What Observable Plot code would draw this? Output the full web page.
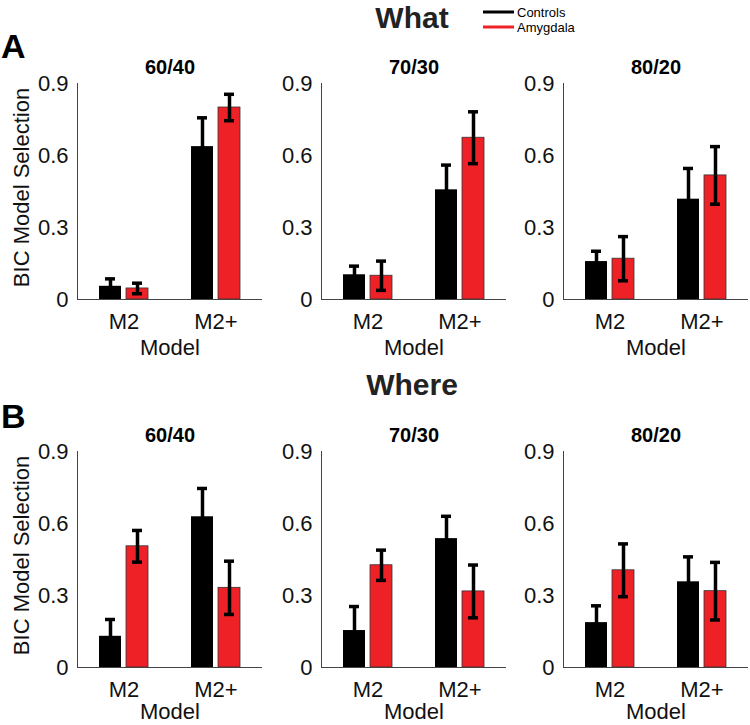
<!DOCTYPE html>
<html>
<head>
<meta charset="utf-8">
<script src="https://cdn.jsdelivr.net/npm/d3@7"></script>
<script src="https://cdn.jsdelivr.net/npm/@observablehq/plot@0.6"></script>
<style>
  html, body { margin: 0; padding: 0; background: #fff; }
  #fig { position: relative; width: 750px; height: 725px; overflow: hidden; font-family: "Liberation Sans", Arial, Helvetica, sans-serif; }
  #fig > svg.overlay { position: absolute; left: 0; top: 0; }
  .panel { position: absolute; }
</style>
</head>
<body>
<div id="fig">
  <svg class="overlay" width="750" height="725" font-family="Liberation Sans, Arial, Helvetica, sans-serif">
    <text x="412" y="28" text-anchor="middle" font-size="30" font-weight="bold" fill="#222">What</text>
    <text x="412" y="395" text-anchor="middle" font-size="30" font-weight="bold" fill="#222">Where</text>
    <text x="1" y="58" font-size="34" font-weight="bold" fill="#000">A</text>
    <text x="1" y="428" font-size="34" font-weight="bold" fill="#000">B</text>
    <line x1="483" x2="514" y1="12" y2="12" stroke="#000" stroke-width="3"/>
    <line x1="483" x2="514" y1="27" y2="27" stroke="#ee2127" stroke-width="3"/>
    <text x="517" y="16.5" font-size="13" fill="#000">Controls</text>
    <text x="517" y="31.5" font-size="13" fill="#000">Amygdala</text>
  </svg>
</div>
<script>
// ---- data ----
const panels = ["60/40", "70/30", "80/20"];
const models = ["M2", "M2+"];
const groups = ["Controls", "Amygdala"];
const yTicks = [0, 0.3, 0.6, 0.9];
const yTickLabels = ["0", "0.3", "0.6", "0.9"];

// "What" row: values per panel, [M2, M2+]
const whatControls    = [[0.055, 0.637], [0.103, 0.457], [0.158, 0.418]];
const whatControlsErr = [[0.031, 0.120], [0.036, 0.103], [0.043, 0.128]];
const whatAmygdala    = [[0.046, 0.800], [0.099, 0.674], [0.170, 0.517]];
const whatAmygdalaErr = [[0.022, 0.055], [0.061, 0.108], [0.092, 0.120]];

// "Where" row
const whereControls    = [[0.130, 0.628], [0.154, 0.537], [0.187, 0.357]];
const whereControlsErr = [[0.070, 0.118], [0.100, 0.093], [0.070, 0.104]];
const whereAmygdala    = [[0.505, 0.332], [0.426, 0.317], [0.405, 0.318]];
const whereAmygdalaErr = [[0.066, 0.111], [0.063, 0.110], [0.110, 0.120]];

// ---- drawing ----
const RED = "#ee2127";
const FONT = "Liberation Sans, Arial, Helvetica, sans-serif";
const fig = document.getElementById("fig");

const rows = [
  {top: 55, modelDy: 48, ctrl: whatControls, ctrlErr: whatControlsErr, amy: whatAmygdala, amyErr: whatAmygdalaErr},
  {top: 423, modelDy: 44, ctrl: whereControls, ctrlErr: whereControlsErr, amy: whereAmygdala, amyErr: whereAmygdalaErr}
];
const panelLefts = [0, 244, 486];

rows.forEach(row => {
  panels.forEach((title, p) => {
    const ctrl = models.map((m, i) => ({model: m, group: groups[0], mean: row.ctrl[p][i], err: row.ctrlErr[p][i]}));
    const amy  = models.map((m, i) => ({model: m, group: groups[1], mean: row.amy[p][i], err: row.amyErr[p][i]}));
    const marks = [
      Plot.axisY({ticks: yTicks, tickFormat: d => yTickLabels[yTicks.indexOf(d)], tickSize: 0, tickPadding: 9, label: null, fill: "#111"}),
      Plot.axisX({tickSize: 0, tickPadding: 14, label: null, fill: "#111"}),
      Plot.barY(ctrl, {x: "model", y: "mean", fill: "#000", insetRight: 27}),
      Plot.barY(amy, {x: "model", y: "mean", fill: RED, stroke: "#333", strokeWidth: 0.8, insetLeft: 27}),
      Plot.ruleX(ctrl, {x: "model", y1: d => d.mean - d.err, y2: d => d.mean + d.err, dx: -13.5, stroke: "#000", strokeWidth: 3.5}),
      Plot.tickY(ctrl, {x: "model", y: d => d.mean + d.err, insetLeft: 6, insetRight: 33, stroke: "#000", strokeWidth: 3.5}),
      Plot.tickY(ctrl, {x: "model", y: d => d.mean - d.err, insetLeft: 6, insetRight: 33, stroke: "#000", strokeWidth: 3.5}),
      Plot.ruleX(amy, {x: "model", y1: d => d.mean - d.err, y2: d => d.mean + d.err, dx: 13.5, stroke: "#000", strokeWidth: 3.5}),
      Plot.tickY(amy, {x: "model", y: d => d.mean + d.err, insetLeft: 33, insetRight: 6, stroke: "#000", strokeWidth: 3.5}),
      Plot.tickY(amy, {x: "model", y: d => d.mean - d.err, insetLeft: 33, insetRight: 6, stroke: "#000", strokeWidth: 3.5}),
      Plot.ruleY([0], {stroke: "#444", strokeWidth: 1}),
      Plot.frame({anchor: "left", stroke: "#444", strokeWidth: 1}),
      Plot.text([title], {frameAnchor: "top", lineAnchor: "middle", dy: -16, fontWeight: "bold", fontSize: 20, fill: "#000"}),
      Plot.text(["Model"], {frameAnchor: "bottom", lineAnchor: "middle", dy: row.modelDy, fontSize: 22, fill: "#111"})
    ];
    if (p === 0) {
      marks.push(Plot.text(["BIC Model Selection"], {frameAnchor: "left", textAnchor: "middle", lineAnchor: "middle", rotate: -90, dx: -56, dy: -4, fontSize: 22, fill: "#111"}));
    }
    const chart = Plot.plot({
      width: 264,
      height: 300,
      marginLeft: 77,
      marginRight: 2,
      marginTop: 28,
      marginBottom: 56,
      style: {background: "transparent", fontFamily: FONT, fontSize: "22px", overflow: "visible"},
      x: {domain: models, paddingInner: 0.47, paddingOuter: 0.235, axis: null},
      y: {domain: [0, 0.9], axis: null},
      marks
    });
    chart.classList.add("panel");
    chart.style.left = panelLefts[p] + "px";
    chart.style.top = row.top + "px";
    chart.style.maxWidth = "none";
    fig.appendChild(chart);
  });
});
</script>
</body>
</html>
